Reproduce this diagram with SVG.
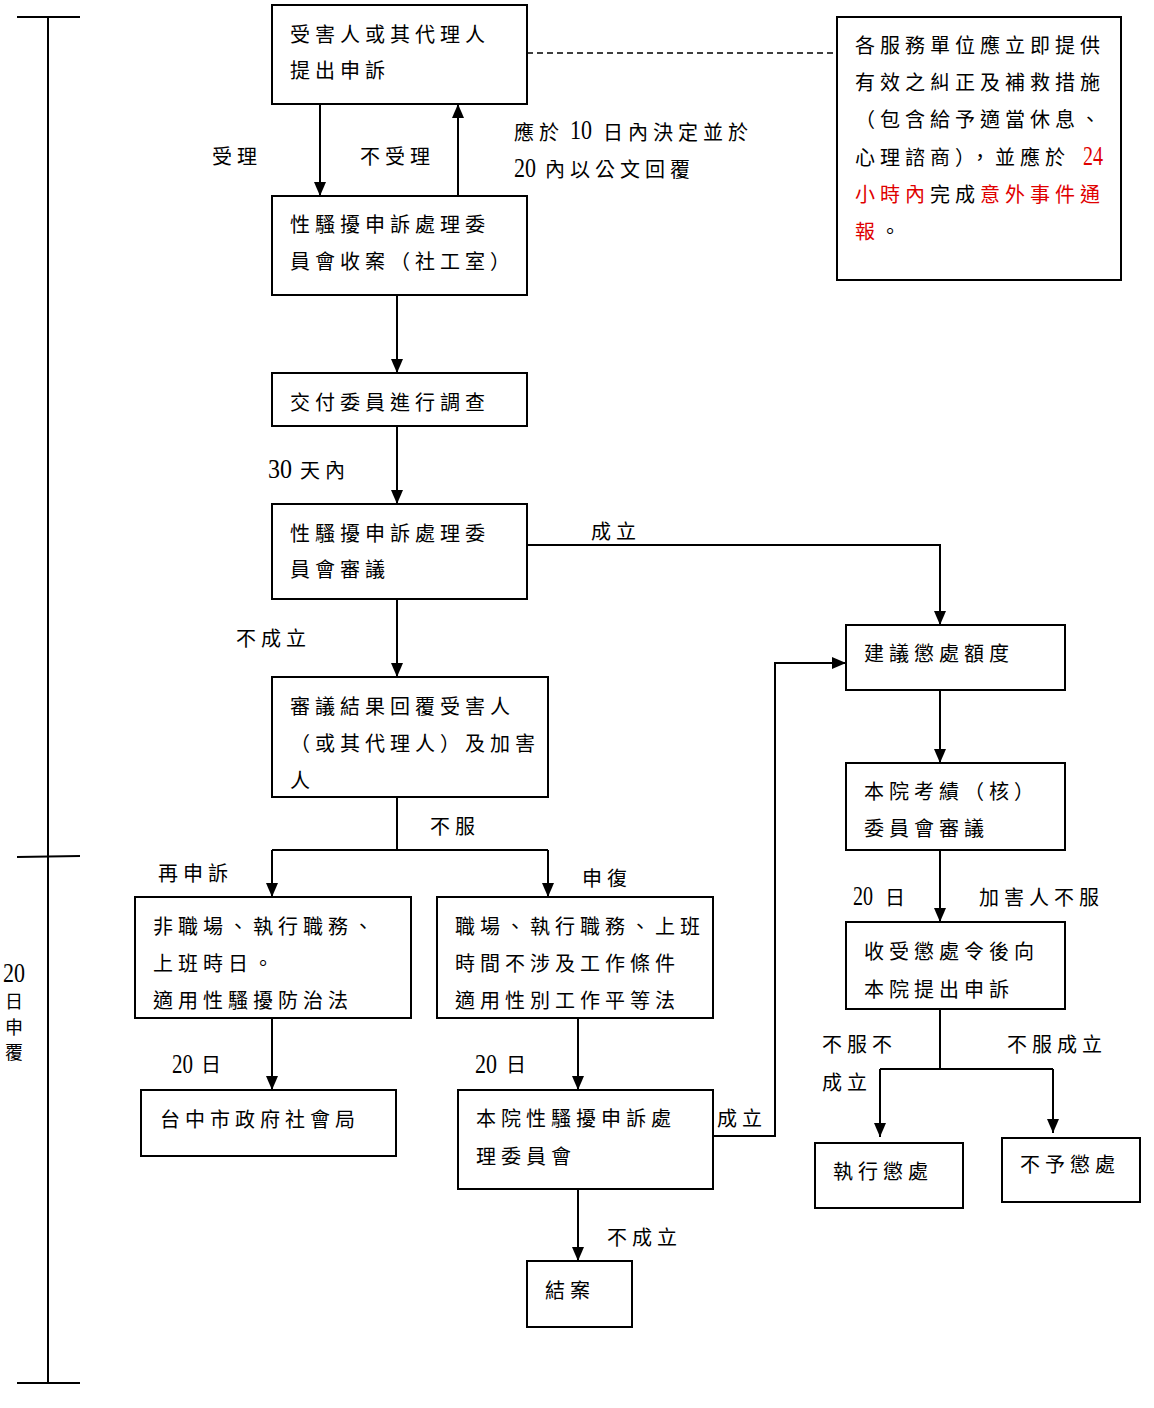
<svg xmlns="http://www.w3.org/2000/svg" width="1154" height="1408" viewBox="0 0 1154 1408">
<defs>
<marker id="ah" markerUnits="userSpaceOnUse" markerWidth="14" markerHeight="12" refX="14" refY="6" orient="auto">
<path d="M0,0 L14,6 L0,12 z" fill="#000"/>
</marker>
<style>
.b{fill:#fff;stroke:#000;stroke-width:2}
.t{font-family:"Noto Sans CJK TC","Liberation Serif",serif;font-size:20px;letter-spacing:5px;fill:#000}
.n{font-family:"Liberation Serif",serif;font-size:27px;letter-spacing:0;fill:#000}
.r{fill:#e00000}
.c{fill:none;stroke:#000;stroke-width:2}
.a{fill:none;stroke:#000;stroke-width:2;marker-end:url(#ah)}
.d{fill:none;stroke:#000;stroke-width:1.5;stroke-dasharray:6,4}
</style>
</defs>
<rect width="1154" height="1408" fill="#fff"/>

<g id="timeline">
<line class="c" x1="48" y1="17" x2="48" y2="1383"/>
<line class="c" x1="17" y1="17" x2="80" y2="17"/>
<line class="c" x1="17" y1="857" x2="80" y2="856"/>
<line class="c" x1="17" y1="1383" x2="80" y2="1383"/>
<text class="n" x="3" y="982" textLength="22" lengthAdjust="spacingAndGlyphs">20</text>
<text class="t" x="5" y="1008" style="font-size:18px;letter-spacing:0">日</text>
<text class="t" x="5" y="1034" style="font-size:18px;letter-spacing:0">申</text>
<text class="t" x="5" y="1059" style="font-size:18px;letter-spacing:0">覆</text>
</g>

<g id="connectors">
<line class="a" x1="320" y1="104" x2="320" y2="196"/>
<line class="a" x1="458" y1="196" x2="458" y2="104"/>
<line class="d" x1="527" y1="53" x2="837" y2="53"/>
<line class="a" x1="397" y1="295" x2="397" y2="373"/>
<line class="a" x1="397" y1="426" x2="397" y2="504"/>
<polyline class="a" points="527,545 940,545 940,625"/>
<line class="a" x1="940" y1="690" x2="940" y2="763"/>
<line class="a" x1="940" y1="850" x2="940" y2="922"/>
<line class="c" x1="940" y1="1009" x2="940" y2="1069"/>
<line class="c" x1="880" y1="1069" x2="1053" y2="1069"/>
<line class="a" x1="880" y1="1069" x2="880" y2="1137"/>
<line class="a" x1="1053" y1="1069" x2="1053" y2="1133"/>
<line class="a" x1="397" y1="599" x2="397" y2="677"/>
<line class="c" x1="397" y1="797" x2="397" y2="850"/>
<line class="c" x1="272" y1="850" x2="548" y2="850"/>
<line class="a" x1="272" y1="850" x2="272" y2="897"/>
<line class="a" x1="548" y1="850" x2="548" y2="897"/>
<line class="a" x1="272" y1="1018" x2="272" y2="1090"/>
<line class="a" x1="578" y1="1018" x2="578" y2="1090"/>
<polyline class="a" points="713,1136 775,1136 775,663 846,663"/>
<line class="a" x1="578" y1="1189" x2="578" y2="1261"/>
</g>

<g id="labels">
<text class="t" x="212" y="164">受理</text>
<text class="t" x="360" y="164">不受理</text>
<text class="t" x="514" y="140">應於</text>
<text class="n" x="570" y="139" textLength="22" lengthAdjust="spacingAndGlyphs">10</text>
<text class="t" x="603" y="140">日內決定並於</text>
<text class="n" x="514" y="177" textLength="22" lengthAdjust="spacingAndGlyphs">20</text>
<text class="t" x="545" y="177">內以公文回覆</text>
<text class="n" x="268" y="478" textLength="24" lengthAdjust="spacingAndGlyphs">30</text>
<text class="t" x="300" y="478">天內</text>
<text class="t" x="591" y="539">成立</text>
<text class="t" x="236" y="646">不成立</text>
<text class="t" x="430" y="834">不服</text>
<text class="t" x="158" y="881">再申訴</text>
<text class="t" x="582" y="886">申復</text>
<text class="n" x="172" y="1073" textLength="21" lengthAdjust="spacingAndGlyphs">20</text>
<text class="t" x="201" y="1072">日</text>
<text class="n" x="475" y="1073" textLength="22" lengthAdjust="spacingAndGlyphs">20</text>
<text class="t" x="506" y="1072">日</text>
<text class="t" x="717" y="1126">成立</text>
<text class="t" x="607" y="1245">不成立</text>
<text class="n" x="853" y="905" textLength="20" lengthAdjust="spacingAndGlyphs">20</text>
<text class="t" x="885" y="905">日</text>
<text class="t" x="979" y="905">加害人不服</text>
<text class="t" x="822" y="1052">不服不</text>
<text class="t" x="822" y="1090">成立</text>
<text class="t" x="1007" y="1052">不服成立</text>
</g>

<g id="n1">
<rect class="b" x="272" y="5" width="255" height="99"/>
<text class="t" x="290" y="42">受害人或其代理人</text>
<text class="t" x="290" y="78">提出申訴</text>
</g>
<g id="n2">
<rect class="b" x="272" y="196" width="255" height="99"/>
<text class="t" x="290" y="232">性騷擾申訴處理委</text>
<text class="t" x="290" y="269">員會收案（社工室）</text>
</g>
<g id="note">
<rect class="b" x="837" y="17" width="284" height="263"/>
<text class="t" x="855" y="53">各服務單位應立即提供</text>
<text class="t" x="855" y="90">有效之糾正及補救措施</text>
<text class="t" x="855" y="127">（包含給予適當休息、</text>
<text class="t" x="855" y="165">心理諮商），並應於</text>
<text class="n r" x="1083" y="165" textLength="20" lengthAdjust="spacingAndGlyphs">24</text>
<text class="t" x="855" y="202"><tspan class="r">小時內</tspan>完成<tspan class="r">意外事件通</tspan></text>
<text class="t" x="855" y="239"><tspan class="r">報</tspan>。</text>
</g>
<g id="n3">
<rect class="b" x="272" y="373" width="255" height="53"/>
<text class="t" x="290" y="410">交付委員進行調查</text>
</g>
<g id="n4">
<rect class="b" x="272" y="504" width="255" height="95"/>
<text class="t" x="290" y="541">性騷擾申訴處理委</text>
<text class="t" x="290" y="577">員會審議</text>
</g>
<g id="n5">
<rect class="b" x="846" y="625" width="219" height="65"/>
<text class="t" x="864" y="661">建議懲處額度</text>
</g>
<g id="n6">
<rect class="b" x="846" y="763" width="219" height="87"/>
<text class="t" x="864" y="799">本院考績（核）</text>
<text class="t" x="864" y="836">委員會審議</text>
</g>
<g id="n7">
<rect class="b" x="846" y="922" width="219" height="87"/>
<text class="t" x="864" y="959">收受懲處令後向</text>
<text class="t" x="864" y="997">本院提出申訴</text>
</g>
<g id="n8">
<rect class="b" x="815" y="1143" width="148" height="65"/>
<text class="t" x="833" y="1179">執行懲處</text>
</g>
<g id="n9">
<rect class="b" x="1002" y="1138" width="138" height="64"/>
<text class="t" x="1020" y="1172">不予懲處</text>
</g>
<g id="n10">
<rect class="b" x="272" y="677" width="276" height="120"/>
<text class="t" x="290" y="714">審議結果回覆受害人</text>
<text class="t" x="290" y="751">（或其代理人）及加害</text>
<text class="t" x="290" y="788">人</text>
</g>
<g id="n11">
<rect class="b" x="135" y="897" width="276" height="121"/>
<text class="t" x="153" y="934">非職場、執行職務、</text>
<text class="t" x="153" y="971">上班時日。</text>
<text class="t" x="153" y="1008">適用性騷擾防治法</text>
</g>
<g id="n12">
<rect class="b" x="437" y="897" width="276" height="121"/>
<text class="t" x="455" y="934">職場、執行職務、上班</text>
<text class="t" x="455" y="971">時間不涉及工作條件</text>
<text class="t" x="455" y="1008">適用性別工作平等法</text>
</g>
<g id="n13">
<rect class="b" x="141" y="1090" width="255" height="66"/>
<text class="t" x="160" y="1127">台中市政府社會局</text>
</g>
<g id="n14">
<rect class="b" x="458" y="1090" width="255" height="99"/>
<text class="t" x="476" y="1126">本院性騷擾申訴處</text>
<text class="t" x="476" y="1164">理委員會</text>
</g>
<g id="n15">
<rect class="b" x="527" y="1261" width="105" height="66"/>
<text class="t" x="545" y="1298">結案</text>
</g>
</svg>
